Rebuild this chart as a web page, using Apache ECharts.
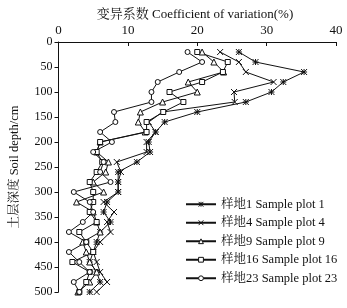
<!DOCTYPE html>
<html>
<head>
<meta charset="utf-8">
<script src="https://cdn.jsdelivr.net/npm/echarts@6/dist/echarts.min.js"></script>
<style>
  html, body { margin: 0; padding: 0; background: #fff; }
  #chart { width: 347px; height: 308px; }
</style>
</head>
<body>
<div id="chart"></div>
<script>
// 土层深度 (cm)
const depths = [20, 40, 60, 80, 100, 120, 140, 160, 180, 200, 220, 240, 260,
  280, 300, 320, 340, 360, 380, 400, 420, 440, 460, 480, 500]

// 变异系数 (%) per sample plot
const plot1 = [26, 28.4, 35.4, 32.4, 30.7, 27, 20, 15.3, 14, 13, 13.2, 11.3, 8.6,
  8.6, 8.6, 7, 6.5, 7.5, 6, 5.5, 5, 4.5, 5.5, 6, 4.5]
const plot4 = [23.3, 26, 27, 31, 25.3, 25.4, 15, 13, 14, 12.7, 12.7, 8.4, 9,
  8.6, 8.6, 6.5, 8, 7, 7.5, 6, 5, 5.5, 6, 7, 5.5]
const plot9 = [20.7, 22.4, 23.8, 18.7, 20, 15, 11.8, 11.5, 12.5, 6, 5.5, 7.2, 6.8,
  5, 6.5, 2.6, 5, 5.5, 6, 3.5, 4, 4.5, 5.5, 4.5, 2.8]
const plot16 = [20, 24.4, 23.7, 20.7, 16, 18, 15.1, 12.7, 12.7, 6, 5.5, 6.3, 5.5,
  4.5, 5, 5, 4.5, 5.5, 3, 4, 5, 2, 4.5, 4, 3]
const plot23 = [18.6, 20.7, 17.4, 14.3, 13.4, 13.4, 8, 8.2, 6, 7.7, 5, 6.5, 6,
  7.5, 2.2, 4.5, 5, 3.5, 1.5, 4, 1.5, 3, 4.5, 2.2, 3]

const seriesNames = ['样地1 Sample plot 1', '样地4 Sample plot 4', '样地9 Sample plot 9',
  '样地16 Sample plot 16', '样地23 Sample plot 23']

const fontFam = '"Liberation Serif", "Noto Serif CJK SC", "Noto Sans CJK SC", serif'

const starPath = 'path://M0,0L10,10M10,0L0,10M0,5L10,5M5,0L5,10'
const crossPath = 'path://M0,0L10,10M10,0L0,10'
const markStyle = { color: '#fff', borderColor: '#111', borderWidth: 1 }

const makeSeries = (name, values, symbol, size) => ({
  name,
  type: 'line',
  data: values.map((v, i) => [v, depths[i]]),
  symbol,
  symbolSize: size,
  lineStyle: { color: '#111', width: 1 },
  itemStyle: markStyle,
  emphasis: { disabled: true }
})

const chart = echarts.init(document.getElementById('chart'))

const option = {
  animation: false,
  textStyle: { fontFamily: fontFam },
  grid: { left: 56, right: 11, top: 42, bottom: 16 },
  title: {
    text: '变异系数 Coefficient of variation(%)',
    left: 190,
    top: 3,
    textAlign: 'center',
    textStyle: { fontSize: 13, fontWeight: 'normal', color: '#111', fontFamily: fontFam }
  },
  legend: {
    orient: 'vertical',
    left: 180,
    top: 193,
    itemWidth: 30,
    itemHeight: 6,
    itemGap: 6,
    textStyle: { fontSize: 12.5, color: '#111', fontFamily: fontFam },
    data: seriesNames.map(n => ({ name: n, itemStyle: markStyle }))
  },
  xAxis: {
    type: 'value',
    position: 'top',
    min: 0,
    max: 40,
    interval: 10,
    axisLine: { lineStyle: { color: '#111' } },
    axisTick: { inside: true, length: 4, lineStyle: { color: '#111' } },
    axisLabel: { color: '#111', fontSize: 13, margin: 5 },
    splitLine: { show: false }
  },
  yAxis: {
    type: 'value',
    inverse: true,
    min: 0,
    max: 500,
    interval: 50,
    name: '土层深度 Soil depth/cm',
    nameLocation: 'middle',
    nameGap: 38,
    nameTextStyle: { fontSize: 12.5, color: '#111', fontFamily: fontFam },
    axisLine: { show: true, lineStyle: { color: '#111' } },
    axisTick: { show: true, length: 4, lineStyle: { color: '#111' } },
    axisLabel: { color: '#111', fontSize: 12, margin: 6 },
    splitLine: { show: false }
  },
  series: [
    makeSeries(seriesNames[0], plot1, starPath, 6),
    makeSeries(seriesNames[1], plot4, crossPath, 6),
    makeSeries(seriesNames[2], plot9, 'triangle', 6),
    makeSeries(seriesNames[3], plot16, 'rect', 5),
    makeSeries(seriesNames[4], plot23, 'circle', 5)
  ]
}

chart.setOption(option)
</script>
</body>
</html>
